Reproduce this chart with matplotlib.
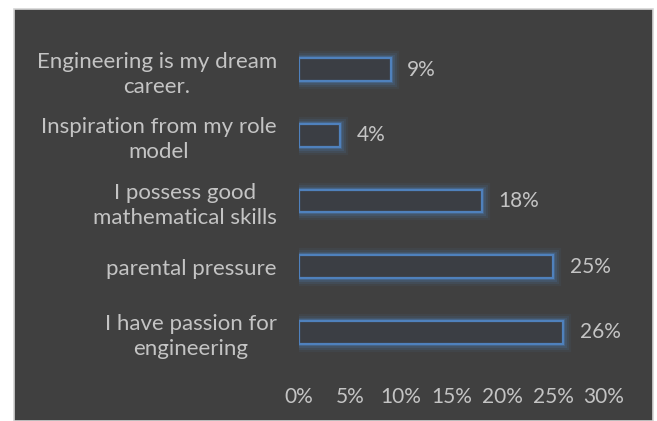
import matplotlib
matplotlib.use("Agg")
import matplotlib.pyplot as plt
import matplotlib.patheffects as pe
from matplotlib.patches import Rectangle

categories = [
    "I have passion for\nengineering",
    "parental pressure",
    "I possess good\nmathematical skills",
    "Inspiration from my role\nmodel",
    "Engineering is my dream\ncareer.",
]
values = [26, 25, 18, 4, 9]
xticks = [0, 5, 10, 15, 20, 25, 30]
xtick_labels = ["0%", "5%", "10%", "15%", "20%", "25%", "30%"]

plt.rcParams['font.family'] = ['Lato', 'DejaVu Sans']
text_color = "#c4c4c4"
bg = "#404040"
blue = "#4f81bd"

fig = plt.figure(figsize=(6.57, 4.21), dpi=100)
fig.patch.set_facecolor("white")
W, H = 657, 421
panel = Rectangle((14 / W, 0), (653 - 14) / W, (421 - 9) / H, transform=fig.transFigure,
                  facecolor=bg, edgecolor="#d4d4d4", linewidth=1.2, zorder=-5)
fig.add_artist(panel)

ax = fig.add_axes([299 / W, (421 - 365) / H, 305 / W, 328 / H])
ax.set_zorder(1)
ax.set_facecolor("none")
ypos = list(range(len(categories)))
bars = ax.barh(ypos, values, height=0.35, color="#3b3e44", edgecolor=blue, linewidth=1.6)
for b in bars:
    b.set_path_effects([
        pe.Stroke(linewidth=11, foreground=blue, alpha=0.08),
        pe.Stroke(linewidth=8, foreground=blue, alpha=0.12),
        pe.Stroke(linewidth=5, foreground=blue, alpha=0.18),
        pe.Stroke(linewidth=3, foreground=blue, alpha=0.3),
        pe.Normal(),
    ])
for y, v in zip(ypos, values):
    ax.annotate(f"{v}%", xy=(v, y), xytext=(12, 0), textcoords="offset points",
                ha="left", va="center", color=text_color, fontsize=15)

ax.set_xlim(0, 30)
ax.set_ylim(-0.5, len(categories) - 0.5)
ax.set_xticks(xticks)
ax.set_xticklabels(xtick_labels, fontsize=15)
ax.set_yticks(ypos)
ax.set_yticklabels(categories, multialignment="center", linespacing=1.3, fontsize=16)
ax.tick_params(axis="both", length=0, colors=text_color)
ax.tick_params(axis="y", pad=16)
ax.tick_params(axis="x", pad=16)
for s in ax.spines.values():
    s.set_visible(False)

fig.savefig("out.png", dpi=100, facecolor=fig.get_facecolor())
